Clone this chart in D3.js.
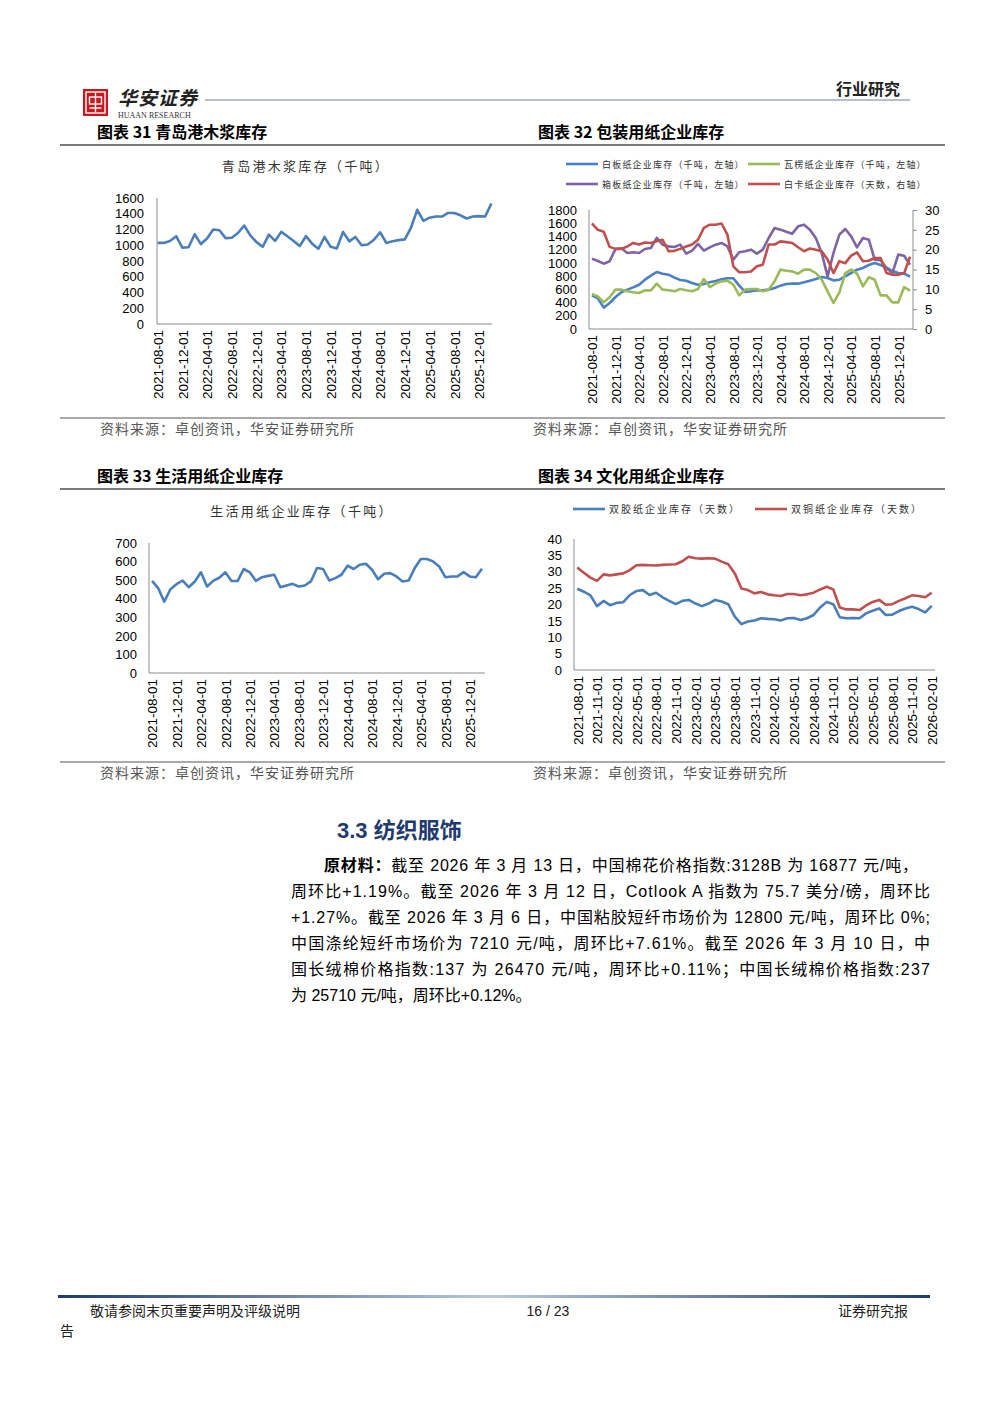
<!DOCTYPE html>
<html>
<head>
<meta charset="utf-8">
<script src="https://cdn.jsdelivr.net/npm/d3@7"></script>
<style>
  body { margin: 0; background: #fff; }
  svg { display: block; }
</style>
</head>
<body>
<script>
// ---------- data ----------
const months = (y, m, n) =>
  d3.range(n).map((i) => d3.timeFormat("%Y-%m-01")(new Date(y, m - 1 + i, 1)));

const cats55 = months(2021, 8, 55); // 2021-08 .. 2026-02

// 图表31 青岛港木浆库存（千吨）
const pulpQingdao = [
  1030, 1030, 1055, 1115, 970,
  975, 1140, 1015, 1085, 1200, 1190, 1090, 1095, 1155, 1250, 1125, 1040,
  980, 1135, 1055, 1170, 1115, 1055, 990, 1115, 1020, 955, 1105, 980,
  960, 1170, 1050, 1105, 1000, 1010, 1070, 1165, 1030, 1050, 1065, 1075,
  1225, 1450, 1310, 1350, 1365, 1365, 1410, 1410, 1380, 1340, 1365, 1370,
  1365, 1530,
];

// 图表32 包装用纸企业库存
const whiteBoard = [ // 白板纸（千吨，左轴）
  509, 464, 323, 393, 484,
  555, 595, 630, 670, 746, 807, 862, 837, 822, 777, 741, 731,
  696, 670, 681, 706, 726, 751, 767, 767, 656, 560, 570, 585,
  585, 595, 620, 656, 680, 686, 686, 706, 731, 756, 787, 772, 736,
  746, 797, 847, 898, 923, 968, 998, 968, 928, 877, 847, 837,
  792,
];
const corrugated = [ // 瓦楞纸（千吨，左轴）
  530, 494, 403, 479, 595,
  595, 570, 555, 545, 585, 585, 686, 595, 585, 570, 605, 585,
  570, 605, 756, 635, 686, 721, 731, 670, 509, 595, 605, 605,
  570, 595, 721, 898, 880, 872, 837, 898, 898, 847, 746, 570, 393,
  555, 847, 898, 837, 645, 782, 746, 509, 509, 403, 403, 635,
  580,
];
const containerBoard = [ // 箱板纸（千吨，左轴）
  1064, 1029, 988, 1024, 1210,
  1220, 1150, 1160, 1150, 1210, 1225, 1377, 1276, 1250, 1240, 1276, 1140,
  1185, 1286, 1185, 1235, 1276, 1301, 1250, 1049, 1160, 1175, 1200, 1140,
  1200, 1377, 1528, 1503, 1470, 1442, 1553, 1578, 1503, 1377, 1150, 797, 1150,
  1427, 1513, 1402, 1235, 1377, 1351, 1049, 1039, 923, 847, 1125, 1109,
  973,
];
const ivoryBoard = [ // 白卡纸（天数，右轴）
  26.6, 25.0, 24.5, 20.7, 20.2,
  20.2, 20.8, 21.7, 21.3, 21.8, 21.7, 22.1, 22.5, 19.6, 19.7, 20.2, 20.8,
  21.3, 22.5, 25.5, 26.3, 26.3, 26.6, 23.8, 15.8, 14.3, 14.3, 14.5, 15.8,
  16.2, 21.3, 21.3, 22.1, 21.9, 21.7, 20.6, 19.6, 20.3, 20.0, 19.6, 17.5, 14.1,
  17.1, 16.6, 18.5, 19.3, 17.1, 17.2, 17.9, 17.9, 14.1, 13.7, 13.7, 14.1,
  18.2,
];

// 图表33 生活用纸企业库存（千吨）
const tissue = [
  496, 457, 384, 451, 478,
  498, 462, 493, 542, 466, 496, 513, 542, 496, 495, 560, 542,
  496, 516, 523, 529, 462, 471, 480, 466, 471, 493, 565, 560,
  498, 511, 529, 578, 560, 583, 588, 556, 505, 534, 538, 520,
  493, 498, 565, 614, 614, 601, 574, 516, 520, 520, 543, 520,
  516, 561,
];

// 图表34 文化用纸企业库存（天数）
const offset = [ // 双胶纸
  24.8, 23.9, 22.8, 19.5, 21.1,
  19.8, 20.5, 20.7, 22.9, 24.1, 24.4, 22.9, 23.6, 22.2, 21.1, 20.1, 21.1,
  21.4, 20.3, 19.5, 20.3, 21.4, 20.9, 20.1, 16.3, 14.0, 14.8, 15.1, 15.8,
  15.6, 15.5, 15.1, 15.8, 15.9, 15.3, 15.8, 16.8, 19.1, 20.8, 20.1, 16.1,
  15.8, 15.9, 15.8, 17.3, 18.1, 18.8, 16.8, 16.9, 18.0, 18.8, 19.3, 18.6,
  17.6, 19.6,
];
const coated = [ // 双铜纸
  31.3, 29.7, 28.2, 27.2, 29.2,
  28.9, 29.2, 29.5, 30.5, 32.0, 32.1, 32.0, 31.9, 32.1, 32.2, 32.3, 33.2,
  34.6, 34.1, 34.0, 34.1, 34.0, 33.1, 32.3, 29.5, 24.9, 24.4, 23.4, 23.8,
  23.1, 22.8, 22.6, 23.2, 23.2, 22.8, 23.1, 23.6, 24.6, 25.4, 24.6, 19.1,
  18.5, 18.5, 18.3, 19.7, 20.8, 21.4, 19.9, 20.1, 21.1, 21.9, 22.8, 22.6,
  22.2, 23.6,
];

const ticks1600 = [0, 200, 400, 600, 800, 1000, 1200, 1400, 1600];
const ticks1800 = [0, 200, 400, 600, 800, 1000, 1200, 1400, 1600, 1800];
const ticks30 = [0, 5, 10, 15, 20, 25, 30];
const ticks700 = [0, 100, 200, 300, 400, 500, 600, 700];
const ticks40 = [0, 5, 10, 15, 20, 25, 30, 35, 40];

const source = "资料来源：卓创资讯，华安证券研究所";
const paragraph = [
  "截至 2026 年 3 月 13 日，中国棉花价格指数:3128B 为 16877 元/吨，",
  "周环比+1.19%。截至 2026 年 3 月 12 日，Cotlook A 指数为 75.7 美分/磅，周环比",
  "+1.27%。截至 2026 年 3 月 6 日，中国粘胶短纤市场价为 12800 元/吨，周环比 0%;",
  "中国涤纶短纤市场价为 7210 元/吨，周环比+7.61%。截至 2026 年 3 月 10 日，中",
  "国长绒棉价格指数:137 为 26470 元/吨，周环比+0.11%；中国长绒棉价格指数:237",
  "为 25710 元/吨，周环比+0.12%。",
];

// ---------- page ----------
const LAT = '"Liberation Sans", Arial, "Noto Sans CJK SC", sans-serif';
const CJK = '"Noto Sans CJK SC", sans-serif';

const svg = d3.select("body").append("svg").attr("width", 1000).attr("height", 1414);

const label = (x, y, s, o = {}) =>
  svg.append("text")
    .attr("x", x).attr("y", y)
    .attr("font-family", o.family || CJK)
    .attr("font-size", o.size || 14)
    .attr("font-weight", o.weight || "normal")
    .attr("fill", o.fill || "#000")
    .attr("text-anchor", o.anchor || "start")
    .attr("letter-spacing", o.ls || 0)
    .text(s);

const rule = (x1, x2, y, color, w) =>
  svg.append("line").attr("x1", x1).attr("x2", x2).attr("y1", y).attr("y2", y)
    .attr("stroke", color).attr("stroke-width", w);

//header
const defs = svg.append("defs");
const gr = defs.append("linearGradient").attr("id", "foot");
gr.append("stop").attr("offset", "0%").attr("stop-color", "#1f3d6b");
gr.append("stop").attr("offset", "50%").attr("stop-color", "#b9c8dc");
gr.append("stop").attr("offset", "100%").attr("stop-color", "#1f3d6b");

svg.append("rect").attr("x", 83).attr("y", 89).attr("width", 25).attr("height", 27).attr("fill", "#c9171e");
svg.append("rect").attr("x", 86).attr("y", 92).attr("width", 19).attr("height", 21)
  .attr("fill", "none").attr("stroke", "#fff").attr("stroke-width", 1.4);
svg.append("rect").attr("x", 89.5).attr("y", 97).attr("width", 12).attr("height", 7)
  .attr("fill", "none").attr("stroke", "#fff").attr("stroke-width", 1.4);
svg.append("line").attr("x1", 95.5).attr("x2", 95.5).attr("y1", 93).attr("y2", 112)
  .attr("stroke", "#fff").attr("stroke-width", 1.4);
svg.append("line").attr("x1", 89.5).attr("x2", 101.5).attr("y1", 108).attr("y2", 108)
  .attr("stroke", "#fff").attr("stroke-width", 1.4);
label(118, 105, "华安证券", { size: 19, weight: "bold", ls: 1, fill: "#222" })
  .attr("font-style", "italic");
label(118, 118, "HUAAN RESEARCH", { family: '"Liberation Serif", serif', size: 8, fill: "#333" });
rule(205, 910, 100, "#6f7f99", 1);
label(900, 95, "行业研究", { size: 16, weight: "bold", anchor: "end", fill: "#222" });

//section titles and rules
label(97, 138, "图表 31 青岛港木浆库存", { size: 16, weight: "bold" });
label(538, 138, "图表 32 包装用纸企业库存", { size: 16, weight: "bold" });
rule(60, 945, 145, "#7a7a7a", 2);
rule(60, 945, 418, "#555", 1);
label(100, 434, source, { size: 14, fill: "#555", ls: 1 });
label(533, 434, source, { size: 14, fill: "#555", ls: 1 });

label(97, 482, "图表 33 生活用纸企业库存", { size: 16, weight: "bold" });
label(538, 482, "图表 34 文化用纸企业库存", { size: 16, weight: "bold" });
rule(60, 945, 489, "#7a7a7a", 2);
rule(60, 945, 762, "#555", 1);
label(100, 778, source, { size: 14, fill: "#555", ls: 1 });
label(533, 778, source, { size: 14, fill: "#555", ls: 1 });

// ---------- charts ----------
const drawChart = (o) => {
  const g = svg.append("g");
  const x = d3.scalePoint().domain(o.cats).range([o.left, o.right]).padding(o.pad);
  const y = d3.scaleLinear().domain([0, d3.max(o.yTicks)]).range([o.bottom, o.top]);
  const yR = o.rTicks
    ? d3.scaleLinear().domain([0, d3.max(o.rTicks)]).range([o.bottom, o.top])
    : null;

  //axis lines
  g.append("line").attr("x1", o.left).attr("x2", o.left).attr("y1", o.top).attr("y2", o.bottom)
    .attr("stroke", "#8c8c8c");
  g.append("line").attr("x1", o.left).attr("x2", o.right).attr("y1", o.bottom).attr("y2", o.bottom)
    .attr("stroke", "#8c8c8c");

  const style = (sel) =>
    sel.call((s) => s.select(".domain").remove())
      .attr("font-family", LAT).attr("font-size", 13)
      .selectAll("text").attr("fill", "#000");

  g.append("g").attr("transform", `translate(${o.left},0)`)
    .call(d3.axisLeft(y).tickValues(o.yTicks).tickFormat(d3.format("d")).tickSize(0).tickPadding(o.yPad))
    .call(style);

  if (yR) {
    g.append("line").attr("x1", o.right).attr("x2", o.right).attr("y1", o.top).attr("y2", o.bottom)
      .attr("stroke", "#8c8c8c");
    g.append("g").attr("transform", `translate(${o.right},0)`)
      .call(d3.axisRight(yR).tickValues(o.rTicks).tickFormat(d3.format("d")).tickSize(4).tickPadding(8))
      .call(style)
      .selectAll("line").attr("stroke", "#8c8c8c");
  }

  const xg = g.append("g").attr("transform", `translate(0,${o.bottom})`)
    .call(d3.axisBottom(x).tickValues(o.cats.filter((d, i) => i % o.every === 0)).tickSize(0));
  xg.call(style);
  xg.selectAll("text")
    .attr("transform", "rotate(-90)")
    .attr("x", -6).attr("y", 0).attr("dy", "0.35em")
    .attr("text-anchor", "end")
    .attr("font-size", 13.5);

  o.series.forEach((s) => {
    const sy = s.right ? yR : y;
    g.append("path").datum(s.values)
      .attr("fill", "none").attr("stroke", s.color).attr("stroke-width", 2.6)
      .attr("stroke-linejoin", "round")
      .attr("d", d3.line().x((d, i) => x(o.cats[i])).y((d) => sy(d)));
  });

  if (o.title) {
    label(o.titleX, o.titleY, o.title, { size: 13, ls: 2.3, anchor: "middle", fill: "#333" });
  }
  (o.legend || []).forEach((l) => {
    svg.append("line").attr("x1", l.x).attr("x2", l.x + 32).attr("y1", l.y).attr("y2", l.y)
      .attr("stroke", l.color).attr("stroke-width", 2.6);
    label(l.x + 36, l.y + 3.5, l.text, { size: o.legendSize, ls: o.legendLs, fill: "#333" });
  });
};

const blue = "#4a7ebb", green = "#9bbb59", purple = "#7f64a2", red = "#c0504d";

drawChart({
  cats: cats55, left: 157, right: 492, top: 198, bottom: 324, pad: 0.1, yPad: 13,
  yTicks: ticks1600, every: 4,
  series: [{ values: pulpQingdao, color: blue }],
  title: "青岛港木浆库存（千吨）", titleX: 306, titleY: 171,
});

drawChart({
  cats: cats55, left: 589, right: 913, top: 210, bottom: 329, pad: 0.5, yPad: 12,
  yTicks: ticks1800, rTicks: ticks30, every: 4,
  series: [
    { values: whiteBoard, color: "#4a7fc6" },
    { values: corrugated, color: green },
    { values: containerBoard, color: purple },
    { values: ivoryBoard, color: red, right: true },
  ],
  legendSize: 9, legendLs: 1.2,
  legend: [
    { x: 566, y: 164, color: "#4a7fc6", text: "白板纸企业库存（千吨，左轴）" },
    { x: 748, y: 164, color: green, text: "瓦楞纸企业库存（千吨，左轴）" },
    { x: 566, y: 184, color: purple, text: "箱板纸企业库存（千吨，左轴）" },
    { x: 748, y: 184, color: red, text: "白卡纸企业库存（天数，右轴）" },
  ],
});

drawChart({
  cats: cats55, left: 149, right: 485, top: 543, bottom: 673, pad: 0.5, yPad: 12,
  yTicks: ticks700, every: 4,
  series: [{ values: tissue, color: blue }],
  title: "生活用纸企业库存（千吨）", titleX: 302, titleY: 516,
});

drawChart({
  cats: cats55, left: 574, right: 935, top: 539, bottom: 670, pad: 0.5, yPad: 12,
  yTicks: ticks40, every: 3,
  series: [
    { values: offset, color: blue },
    { values: coated, color: red },
  ],
  legendSize: 10, legendLs: 2,
  legend: [
    { x: 573, y: 509, color: blue, text: "双胶纸企业库存（天数）" },
    { x: 755, y: 509, color: red, text: "双铜纸企业库存（天数）" },
  ],
});

// ---------- section 3.3 ----------
label(337, 838, "3.3 ", { family: LAT, size: 22, weight: "bold", fill: "#1f3a6e" })
  .append("tspan").attr("font-family", CJK).text("纺织服饰");

const lineY = (i) => 871 + i * 26;
paragraph.forEach((s, i) => {
  const t = svg.append("text")
    .attr("x", i === 0 ? 324 : 291).attr("y", lineY(i))
    .attr("font-family", LAT).attr("font-size", 16).attr("fill", "#000");
  if (i === 0) t.append("tspan").attr("font-weight", "bold").text("原材料：");
  t.append("tspan").text(s);
  if (i < paragraph.length - 1) {
    t.attr("textLength", (i === 0 ? 918 : 930) - (i === 0 ? 324 : 291)).attr("lengthAdjust", "spacing");
  }
});

// ---------- footer ----------
svg.append("rect").attr("x", 58).attr("y", 1295).attr("width", 872).attr("height", 3).attr("fill", "url(#foot)");
label(90, 1316, "敬请参阅末页重要声明及评级说明", { size: 14, fill: "#222" });
label(548, 1316, "16 / 23", { family: LAT, size: 14, anchor: "middle", fill: "#222" });
label(838, 1316, "证券研究报", { size: 14, fill: "#222" });
label(60, 1336, "告", { size: 14, fill: "#222" });
</script>
</body>
</html>
